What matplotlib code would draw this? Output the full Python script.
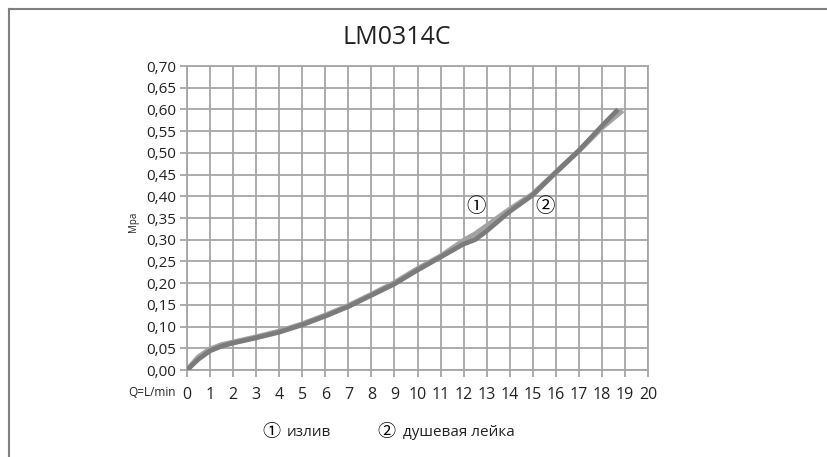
import numpy as np
import matplotlib
matplotlib.use("Agg")
import matplotlib.pyplot as plt

plt.rcParams['font.family'] = ['Open Sans', 'DejaVu Sans']

# flow rate (L/min) and pressure (MPa)
q_spout = [0, 0.5, 1, 1.5, 2, 3, 4, 5, 6, 7, 8, 9, 10, 11, 12, 12.5, 13, 14, 15, 16, 17, 18, 18.9]
p_spout = [0, 0.03, 0.048, 0.058, 0.064, 0.076, 0.089, 0.106, 0.126, 0.148, 0.174, 0.201,
           0.233, 0.262, 0.298, 0.313, 0.332, 0.37, 0.405, 0.455, 0.505, 0.558, 0.598]
q_shower = [0, 0.5, 1, 1.5, 2, 3, 4, 5, 6, 7, 8, 9, 10, 11, 12, 12.5, 13, 14, 15, 16, 17, 18, 18.7]
p_shower = [0, 0.025, 0.044, 0.055, 0.062, 0.074, 0.087, 0.104, 0.124, 0.146, 0.172, 0.198,
            0.23, 0.26, 0.29, 0.30, 0.32, 0.365, 0.403, 0.455, 0.505, 0.562, 0.60]

x_ticks = list(range(0, 21))
y_ticks = [i * 0.05 for i in range(15)]
y_labels = [f"{v:.2f}".replace('.', ',') for v in y_ticks]

W, H = 827, 457
fig = plt.figure(figsize=(W / 100, H / 100), dpi=100)
ax = fig.add_axes([187 / W, 1 - 370 / H, (648 - 187) / W, (370 - 66) / H])

grid_c = '#a6a6a6'
circ_font = ['Noto Sans CJK JP', 'DejaVu Sans']
ax.plot(q_spout, p_spout, color='#a3a3a3', lw=3.8, solid_capstyle='butt', zorder=3)
ax.plot(q_shower, p_shower, color='#7b7b7b', lw=3.4, solid_capstyle='butt', zorder=4)

ax.set_xlim(0, 20)
ax.set_ylim(0, 0.70)
ax.set_xticks(x_ticks)
ax.set_xticklabels([str(v) for v in x_ticks], fontsize=11.5, color='#222222')
ax.set_yticks(y_ticks)
ax.set_yticklabels(y_labels, fontsize=11, color='#222222')
ax.grid(True, color=grid_c, lw=1.3)
ax.tick_params(length=5, width=1.3, color=grid_c, pad=3)
ax.tick_params(axis='x', pad=7)
for s in ax.spines.values():
    s.set_color(grid_c)
    s.set_linewidth(1.3)
ax.set_axisbelow(True)

ax.text(-0.48, -22 / 304, "Q=L/min", transform=ax.get_xaxis_transform(),
        ha='right', va='center', fontsize=8.5, color='#222222')
ax.text(-53 / 461, 0.487, "Mpa", transform=ax.transAxes, rotation=90,
        ha='center', va='center', fontsize=7, color='#222222')

ax.text(12.54, 0.376, "①", ha='center', va='center', fontsize=14,
        family=circ_font, zorder=5)
ax.text(15.53, 0.376, "②", ha='center', va='center', fontsize=14,
        family=circ_font, zorder=5)

fig.text(397 / W, 1 - 38 / H, "LM0314C", ha='center', va='center', fontsize=18, color='#222222')

fig.text(271 / W, 1 - 432 / H, "①", ha='center', va='center', fontsize=13, family=circ_font)
fig.text(287 / W, 1 - 432 / H, "излив", ha='left', va='center', fontsize=11, color='#222222')
fig.text(386 / W, 1 - 432 / H, "②", ha='center', va='center', fontsize=13, family=circ_font)
fig.text(403 / W, 1 - 432 / H, "душевая лейка", ha='left', va='center', fontsize=11, color='#222222')

# frame around the chart (top and left edges visible)
fig.add_artist(plt.Line2D([9 / W, 1], [1 - 9 / H, 1 - 9 / H], transform=fig.transFigure,
                          color='#808080', lw=1.5))
fig.add_artist(plt.Line2D([9 / W, 9 / W], [0, 1 - 9 / H], transform=fig.transFigure,
                          color='#808080', lw=1.5))

fig.savefig("out.png", dpi=100)
